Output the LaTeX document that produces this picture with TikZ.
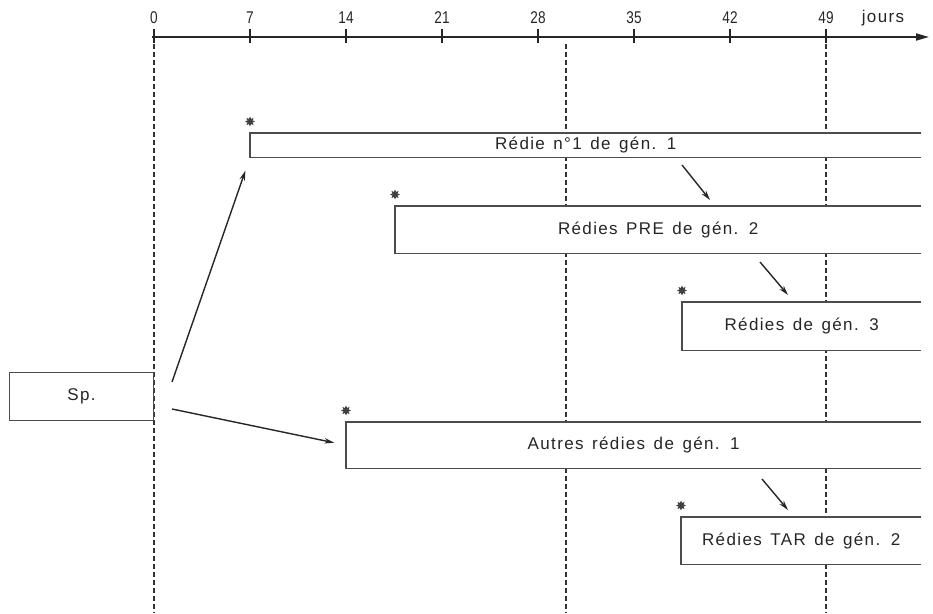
\documentclass[tikz,border=0pt]{standalone}
\usepackage{fontspec}
\setmainfont{Liberation Sans}
\newfontfamily\labfont{Liberation Sans}[LetterSpace=8,WordSpace=1.4]
\newfontfamily\axfont{Liberation Sans}[FakeStretch=0.8]
\usetikzlibrary{arrows.meta,shapes.geometric,positioning}

\begin{document}
\begin{tikzpicture}[x=1pt, y=-1pt,
        font=\labfont\fontsize{17}{20}\selectfont,
        bar/.style={fill=white, anchor=north west, inner sep=0pt,
                    text=black!85},
        edge/.style={draw=black!70, line width=1.1pt},
        guide/.style={draw=black!80, line width=1.2pt,
                      dash pattern=on 5pt off 3pt},
        link/.style={draw=black!85, line width=1.4pt,
                     -{Stealth[length=10pt,width=5.5pt]}},
        burst/.style={star, star points=8, star point ratio=1.8,
                      fill=black!75, inner sep=0pt, minimum size=10pt},
        day/.style={font=\axfont\fontsize{17}{20}\selectfont, text=black!85},
      ]
        \useasboundingbox (0,0) rectangle (933,613);

        \foreach \x in {154,566,826} {
          \draw[guide] (\x,44) -- (\x,613);
        }

        \foreach \n/\x/\y/\h/\lab in {
          r1/250/133/24/{Rédie n°1 de gén. 1},
          r2/395/206/47/{Rédies PRE de gén. 2},
          r3/682/302/48/{Rédies de gén. 3},
          r5/346/422/46/{Autres rédies de gén. 1},
          r6/681/517/47/{Rédies TAR de gén. 2}} {
          \node[bar, minimum width={(921-\x)*1pt}, minimum height={\h*1pt}]
            (\n) at (\x,\y) {\lab};
          \draw[edge] (\n.north east) -- (\n.north west)
            -- (\n.south west) -- (\n.south east);
          \node[burst, above=6pt of \n.north west] (s\n) {};
        }

        \node[bar, edge, minimum width=144pt, minimum height=48pt]
          (sp) at (9,372) {Sp.};

        \coordinate (a1) at (172,382);
        \coordinate (a2) at (172,409);
        \coordinate (p1) at (682,165);
        \coordinate (q1) at (710,200);
        \coordinate (p2) at (760,262);
        \coordinate (q2) at (788,295);
        \coordinate (p3) at (762,479);
        \coordinate (q3) at (788,510);
        \draw[link, shorten >=14pt] (a1) -- (r1.south west);
        \draw[link, shorten >=12pt] (a2) -- (r5.west);
        \draw[link] (p1) -- (q1);
        \draw[link] (p2) -- (q2);
        \draw[link] (p3) -- (q3);

        \coordinate (t0) at (152,37);
        \coordinate (tend) at (929,37);
        \draw[draw=black!85, line width=1.8pt,
              -{Triangle[length=13pt,width=7pt]}] (t0) -- (tend);
        \foreach \d in {0,7,...,49} {
          \draw[draw=black!85, line width=1.8pt]
            (154+\d*96/7,29) -- (154+\d*96/7,43);
          \node[day] at (154+\d*96/7,18) {\d};
        }
        \node[font=\labfont\fontsize{17}{20}\selectfont, text=black!85]
          (jours) at (883,18) {jours};
      \end{tikzpicture}
\end{document}
